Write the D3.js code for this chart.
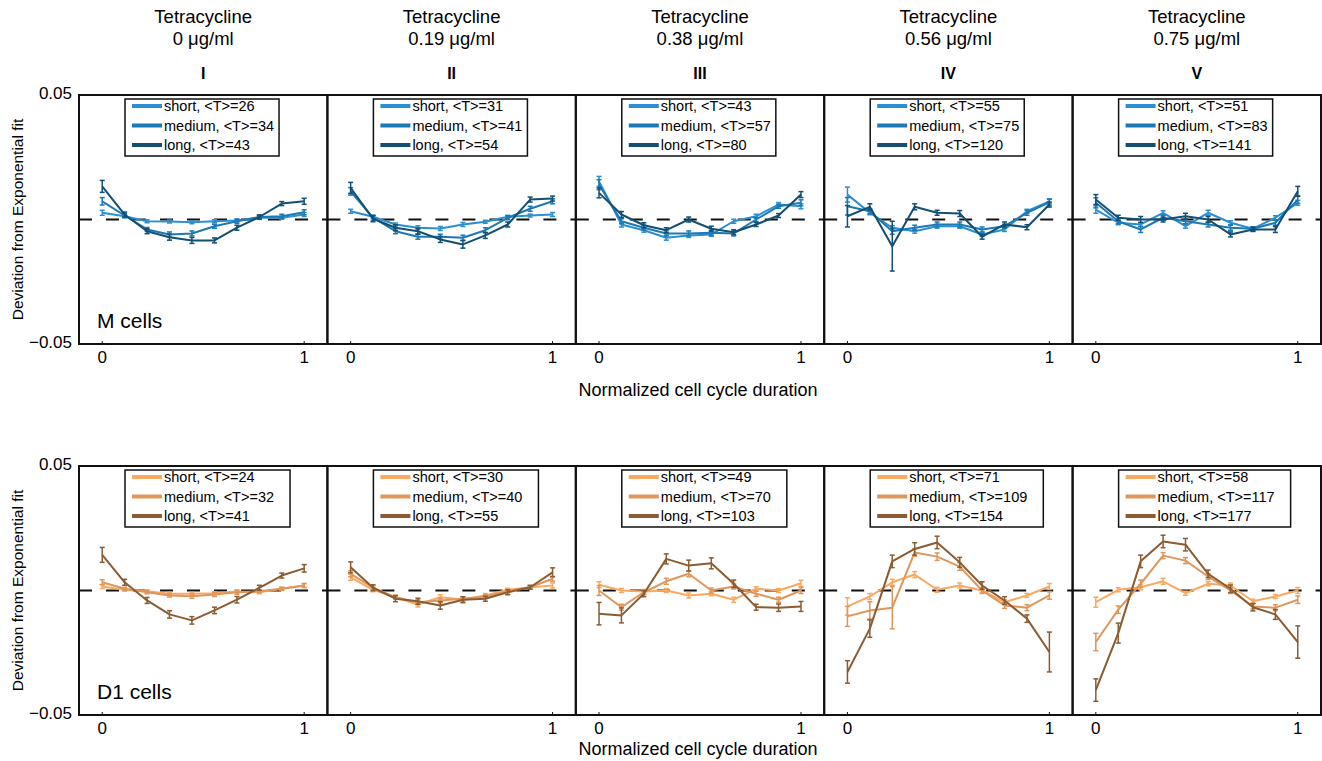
<!DOCTYPE html>
<html lang="en">
<head>
  <meta charset="UTF-8">
  <title>Deviation from Exponential fit</title>
  <script src="https://d3js.org/d3.v7.min.js"></script>
  <style>
    body { margin: 0; background: #fff; }
    svg { display: block; font-family: "Liberation Sans", Arial, sans-serif; }
  </style>
</head>
<body>
  <svg id="chart" width="1322" height="761"></svg>

  <script>
    // ---- data ----
    const concentrations = ["0", "0.19", "0.38", "0.56", "0.75"];
    const numerals = ["I", "II", "III", "IV", "V"];
    const seriesNames = ["short", "medium", "long"];
    const xPoints = [0, 0.111, 0.222, 0.333, 0.444, 0.556, 0.667, 0.778, 0.889, 1];
    const xTicks = [0, 1];
    const yTickLabels = ["0.05", "\u22120.05"];

    // mean durations <T> per panel (short, medium, long)
    const mMeanT = [[26, 34, 43], [31, 41, 54], [43, 57, 80], [55, 75, 120], [51, 83, 141]];
    const d1MeanT = [[24, 32, 41], [30, 40, 55], [49, 70, 103], [71, 109, 154], [58, 117, 177]];

    // M cells
    const mShort = [
      [0.0027, 0.0013, -0.0007, -0.0008, -0.0011, -0.0007, -0.0004, 0.0007, 0.0007, 0.0020],
      [0.0033, 0.0011, -0.0020, -0.0033, -0.0036, -0.0020, -0.0009, 0.0011, 0.0016, 0.0020],
      [0.0153, -0.0020, -0.0043, -0.0073, -0.0064, -0.0060, -0.0007, 0.0013, 0.0060, 0.0053],
      [0.0100, 0.0027, -0.0033, -0.0047, -0.0027, -0.0027, -0.0060, -0.0040, 0.0033, 0.0073],
      [0.0040, -0.0013, -0.0020, 0.0027, -0.0027, 0.0027, -0.0013, -0.0037, 0.0007, 0.0067]
    ];
    const mMedium = [
      [0.0073, 0.0016, -0.0040, -0.0060, -0.0056, -0.0027, -0.0007, 0.0010, 0.0013, 0.0029],
      [0.0113, 0.0007, -0.0047, -0.0069, -0.0069, -0.0073, -0.0043, 0.0007, 0.0043, 0.0073],
      [0.0140, -0.0007, -0.0033, -0.0056, -0.0056, -0.0053, -0.0056, 0.0000, 0.0053, 0.0067],
      [0.0053, 0.0033, -0.0047, -0.0033, -0.0020, -0.0020, -0.0040, -0.0027, 0.0027, 0.0069],
      [0.0067, -0.0007, -0.0040, 0.0007, -0.0007, -0.0020, -0.0033, -0.0037, -0.0013, 0.0080]
    ];
    const mLong = [
      [0.0133, 0.0020, -0.0047, -0.0071, -0.0084, -0.0084, -0.0033, 0.0010, 0.0064, 0.0073],
      [0.0127, 0.0003, -0.0033, -0.0047, -0.0080, -0.0100, -0.0064, -0.0020, 0.0080, 0.0084],
      [0.0107, 0.0020, -0.0023, -0.0043, 0.0000, -0.0037, -0.0051, -0.0020, 0.0016, 0.0100],
      [0.0013, 0.0051, -0.0107, 0.0051, 0.0027, 0.0024, -0.0069, -0.0020, -0.0031, 0.0060],
      [0.0080, 0.0007, 0.0000, 0.0000, 0.0013, 0.0000, -0.0060, -0.0040, -0.0040, 0.0113]
    ];
    const mShortErr = [
      [0.0010, 0.0006, 0.0006, 0.0006, 0.0006, 0.0006, 0.0006, 0.0006, 0.0006, 0.0008],
      [0.0008, 0.0006, 0.0006, 0.0008, 0.0008, 0.0008, 0.0006, 0.0006, 0.0006, 0.0008],
      [0.0020, 0.0010, 0.0008, 0.0010, 0.0008, 0.0008, 0.0008, 0.0008, 0.0008, 0.0010],
      [0.0030, 0.0008, 0.0008, 0.0008, 0.0008, 0.0008, 0.0008, 0.0008, 0.0008, 0.0010],
      [0.0015, 0.0008, 0.0008, 0.0008, 0.0008, 0.0010, 0.0008, 0.0008, 0.0008, 0.0010]
    ];
    const mMediumErr = [
      [0.0015, 0.0008, 0.0008, 0.0010, 0.0010, 0.0008, 0.0008, 0.0008, 0.0008, 0.0010],
      [0.0015, 0.0010, 0.0010, 0.0010, 0.0010, 0.0010, 0.0010, 0.0008, 0.0010, 0.0010],
      [0.0020, 0.0010, 0.0010, 0.0010, 0.0010, 0.0010, 0.0010, 0.0008, 0.0008, 0.0012],
      [0.0035, 0.0010, 0.0012, 0.0010, 0.0010, 0.0010, 0.0010, 0.0008, 0.0010, 0.0012],
      [0.0020, 0.0010, 0.0012, 0.0010, 0.0010, 0.0010, 0.0010, 0.0008, 0.0010, 0.0015]
    ];
    const mLongErr = [
      [0.0024, 0.0010, 0.0010, 0.0012, 0.0012, 0.0010, 0.0010, 0.0008, 0.0008, 0.0012],
      [0.0022, 0.0012, 0.0012, 0.0012, 0.0012, 0.0015, 0.0012, 0.0010, 0.0010, 0.0010],
      [0.0020, 0.0012, 0.0010, 0.0010, 0.0010, 0.0010, 0.0010, 0.0008, 0.0008, 0.0012],
      [0.0043, 0.0012, 0.0100, 0.0012, 0.0010, 0.0012, 0.0010, 0.0010, 0.0010, 0.0010],
      [0.0020, 0.0010, 0.0012, 0.0010, 0.0012, 0.0012, 0.0010, 0.0008, 0.0012, 0.0020]
    ];

    // D1 cells
    const dShort = [
      [0.0016, 0.0003, -0.0003, -0.0013, -0.0013, -0.0011, -0.0004, -0.0007, 0.0007, 0.0020],
      [0.0053, 0.0003, -0.0027, -0.0056, -0.0027, -0.0036, -0.0020, 0.0003, 0.0013, 0.0020],
      [0.0023, 0.0000, -0.0004, 0.0000, -0.0020, -0.0013, -0.0037, 0.0007, 0.0000, 0.0029],
      [-0.0064, -0.0024, 0.0033, 0.0064, 0.0003, 0.0020, 0.0000, -0.0047, -0.0020, 0.0016],
      [-0.0047, 0.0003, 0.0013, 0.0037, -0.0011, 0.0027, 0.0020, -0.0043, -0.0024, 0.0000]
    ];
    const dMedium = [
      [0.0033, 0.0007, -0.0007, -0.0020, -0.0023, -0.0016, -0.0007, -0.0003, 0.0007, 0.0020],
      [0.0067, 0.0011, -0.0027, -0.0047, -0.0040, -0.0033, -0.0024, -0.0003, 0.0013, 0.0047],
      [0.0000, -0.0067, -0.0007, 0.0037, 0.0067, 0.0000, 0.0016, -0.0013, -0.0037, 0.0000],
      [-0.0104, -0.0080, -0.0069, 0.0153, 0.0136, 0.0096, 0.0000, -0.0060, -0.0069, -0.0020],
      [-0.0207, -0.0077, 0.0027, 0.0140, 0.0120, 0.0056, 0.0000, -0.0064, -0.0069, -0.0037]
    ];
    const dLong = [
      [0.0143, 0.0033, -0.0040, -0.0096, -0.0120, -0.0080, -0.0037, 0.0011, 0.0060, 0.0089],
      [0.0093, 0.0011, -0.0033, -0.0043, -0.0060, -0.0037, -0.0033, -0.0007, 0.0013, 0.0073],
      [-0.0093, -0.0100, -0.0013, 0.0127, 0.0100, 0.0109, 0.0027, -0.0067, -0.0069, -0.0064],
      [-0.0327, -0.0153, 0.0117, 0.0167, 0.0193, 0.0113, 0.0020, -0.0040, -0.0113, -0.0247],
      [-0.0400, -0.0171, 0.0117, 0.0197, 0.0184, 0.0067, 0.0007, -0.0067, -0.0096, -0.0207]
    ];
    const dShortErr = [
      [0.0008, 0.0006, 0.0006, 0.0006, 0.0006, 0.0006, 0.0006, 0.0006, 0.0006, 0.0008],
      [0.0012, 0.0008, 0.0008, 0.0010, 0.0010, 0.0008, 0.0008, 0.0006, 0.0006, 0.0010],
      [0.0012, 0.0008, 0.0008, 0.0008, 0.0010, 0.0008, 0.0010, 0.0008, 0.0008, 0.0012],
      [0.0035, 0.0012, 0.0012, 0.0012, 0.0010, 0.0010, 0.0008, 0.0010, 0.0008, 0.0012],
      [0.0020, 0.0008, 0.0010, 0.0012, 0.0008, 0.0008, 0.0010, 0.0008, 0.0008, 0.0012]
    ];
    const dMediumErr = [
      [0.0010, 0.0006, 0.0006, 0.0006, 0.0008, 0.0008, 0.0008, 0.0006, 0.0006, 0.0008],
      [0.0012, 0.0008, 0.0008, 0.0010, 0.0010, 0.0008, 0.0008, 0.0006, 0.0006, 0.0010],
      [0.0020, 0.0012, 0.0010, 0.0012, 0.0012, 0.0010, 0.0010, 0.0010, 0.0010, 0.0012],
      [0.0040, 0.0035, 0.0085, 0.0015, 0.0015, 0.0015, 0.0012, 0.0012, 0.0012, 0.0015],
      [0.0035, 0.0015, 0.0015, 0.0012, 0.0012, 0.0012, 0.0012, 0.0010, 0.0012, 0.0015]
    ];
    const dLongErr = [
      [0.0030, 0.0012, 0.0012, 0.0015, 0.0015, 0.0013, 0.0013, 0.0010, 0.0010, 0.0015],
      [0.0022, 0.0012, 0.0012, 0.0012, 0.0015, 0.0012, 0.0010, 0.0010, 0.0008, 0.0018],
      [0.0045, 0.0030, 0.0012, 0.0020, 0.0022, 0.0022, 0.0015, 0.0012, 0.0015, 0.0020],
      [0.0045, 0.0035, 0.0025, 0.0025, 0.0025, 0.0020, 0.0015, 0.0015, 0.0015, 0.0080],
      [0.0045, 0.0040, 0.0025, 0.0025, 0.0025, 0.0015, 0.0015, 0.0015, 0.0020, 0.0065]
    ];

    const mColors = ["#2b8fd2", "#1c79b6", "#134e73"];
    const d1Colors = ["#f9a962", "#e0965b", "#8b5b31"];

    // ---- layout ----
    const svg = d3.select("#chart");
    const panelLeft = 79, panelW = 248.4;

    const rows = [
      { top: 95, bottom: 344, label: "M cells", meanT: mMeanT, colors: mColors,
        series: [mShort, mMedium, mLong], errs: [mShortErr, mMediumErr, mLongErr],
        legendPad: 5, xLabelY: 396 },
      { top: 466, bottom: 715, label: "D1 cells", meanT: d1MeanT, colors: d1Colors,
        series: [dShort, dMedium, dLong], errs: [dShortErr, dMediumErr, dLongErr],
        legendPad: 16, xLabelY: 755 }
    ];

    // column titles
    concentrations.forEach((c, i) => {
      const cx = panelLeft + panelW * (i + 0.5);
      svg.append("text").attr("x", cx).attr("y", 23).attr("text-anchor", "middle")
         .style("font-size", "18.5px").text("Tetracycline");
      svg.append("text").attr("x", cx).attr("y", 45).attr("text-anchor", "middle")
         .style("font-size", "18.5px").text(c + " \u03bcg/ml");
      svg.append("text").attr("x", cx).attr("y", 79).attr("text-anchor", "middle")
         .style("font-size", "16px").style("font-weight", "bold").text(numerals[i]);
    });

    rows.forEach(row => {
      const y = d3.scaleLinear().domain([-0.05, 0.05]).range([row.bottom, row.top]);

      // y tick labels
      svg.append("text").attr("x", 72).attr("y", y(0.05) + 4).attr("text-anchor", "end")
         .style("font-size", "17px").text(yTickLabels[0]);
      svg.append("text").attr("x", 72).attr("y", y(-0.05) + 4).attr("text-anchor", "end")
         .style("font-size", "17px").text(yTickLabels[1]);

      // y axis title
      const midY = (row.top + row.bottom) / 2;
      svg.append("text")
         .attr("transform", `translate(23,${midY}) rotate(-90)`)
         .attr("text-anchor", "middle")
         .style("font-size", "15.5px")
         .text("Deviation from Exponential fit");

      // x axis title
      svg.append("text").attr("x", 698).attr("y", row.xLabelY).attr("text-anchor", "middle")
         .style("font-size", "18px").text("Normalized cell cycle duration");

      concentrations.forEach((c, p) => {
        const left = panelLeft + panelW * p;
        const x = d3.scaleLinear().domain([-0.115, 1.115]).range([left, left + panelW]);
        const g = svg.append("g");

        // zero reference
        g.append("line")
         .attr("x1", left).attr("x2", left + panelW)
         .attr("y1", y(0)).attr("y2", y(0))
         .attr("stroke", "#111").attr("stroke-width", 2)
         .attr("stroke-dasharray", "13,14");

        // series: short, medium, long
        row.series.forEach((s, k) => {
          const vals = s[p], errs = row.errs[k][p];
          const pts = xPoints.map((xv, j) => ({ x: xv, y: vals[j], e: errs[j] }));
          const color = row.colors[k];

          g.append("path")
           .datum(pts)
           .attr("fill", "none")
           .attr("stroke", color)
           .attr("stroke-width", 2)
           .attr("stroke-linejoin", "round")
           .attr("d", d3.line().x(d => x(d.x)).y(d => y(d.y)));

          const eb = g.append("g").attr("stroke", color).attr("stroke-width", 1.5);
          eb.selectAll(".v").data(pts).enter().append("line")
            .attr("x1", d => x(d.x)).attr("x2", d => x(d.x))
            .attr("y1", d => y(d.y - d.e)).attr("y2", d => y(d.y + d.e));
          eb.selectAll(".ct").data(pts).enter().append("line")
            .attr("x1", d => x(d.x) - 2.5).attr("x2", d => x(d.x) + 2.5)
            .attr("y1", d => y(d.y + d.e)).attr("y2", d => y(d.y + d.e));
          eb.selectAll(".cb").data(pts).enter().append("line")
            .attr("x1", d => x(d.x) - 2.5).attr("x2", d => x(d.x) + 2.5)
            .attr("y1", d => y(d.y - d.e)).attr("y2", d => y(d.y - d.e));
        });

        // small inside ticks at x = 0, 1
        xTicks.forEach(t => {
          g.append("line").attr("x1", x(t)).attr("x2", x(t))
           .attr("y1", row.bottom).attr("y2", row.bottom - 3)
           .attr("stroke", "#111").attr("stroke-width", 1);
          svg.append("text").attr("x", x(t)).attr("y", row.bottom + 19)
             .attr("text-anchor", "middle").style("font-size", "17px").text(String(t));
        });

        // legend
        const lg = g.append("g");
        const boxLeft = left + 46, boxTop = row.top + 4;
        const texts = seriesNames.map((n, k) =>
          lg.append("text")
            .attr("x", boxLeft + 39)
            .attr("y", boxTop + 12 + k * 19.5)
            .style("font-size", "14.5px")
            .text(`${n}, <T>=${row.meanT[p][k]}`));
        const maxLen = d3.max(texts, t => t.node().getComputedTextLength());
        lg.insert("rect", ":first-child")
          .attr("x", boxLeft).attr("y", boxTop)
          .attr("width", 39 + maxLen + row.legendPad).attr("height", 57)
          .attr("fill", "#fff").attr("stroke", "#111").attr("stroke-width", 1.5);
        seriesNames.forEach((n, k) => {
          lg.append("line")
            .attr("x1", boxLeft + 7).attr("x2", boxLeft + 37)
            .attr("y1", boxTop + 7 + k * 19.5).attr("y2", boxTop + 7 + k * 19.5)
            .attr("stroke", row.colors[k]).attr("stroke-width", 4);
        });

        // frame
        g.append("rect")
         .attr("x", left).attr("y", row.top)
         .attr("width", panelW).attr("height", row.bottom - row.top)
         .attr("fill", "none").attr("stroke", "#111").attr("stroke-width", 2);
      });

      // row label
      svg.append("text").attr("x", 97).attr("y", row.bottom - 16)
         .style("font-size", "21px").text(row.label);
    });
  </script>
</body>
</html>
